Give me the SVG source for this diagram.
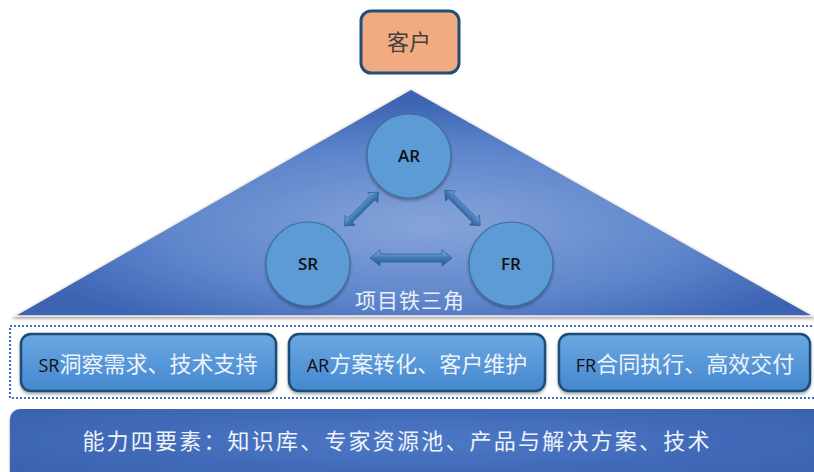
<svg xmlns="http://www.w3.org/2000/svg" width="814" height="472" viewBox="0 0 814 472">
<style>
.cjk{font-family:"Noto Sans CJK SC","Liberation Sans",sans-serif;}
.lat{font-family:"Open Sans","Liberation Sans",sans-serif;}
.circ{fill:#5b9bd5;stroke:#3d6f9f;stroke-width:1.2;}
.ctext{font-family:"Open Sans","Liberation Sans",sans-serif;font-size:17px;font-weight:600;fill:#111;text-anchor:middle;}
.role{fill:url(#boxg);stroke:#1f4e79;stroke-width:2.5;}
.arr{fill:url(#arrg);stroke:#2e5f8f;stroke-width:0.8;}
</style>
<defs>
<radialGradient id="tri" cx="0.52" cy="0.6" r="0.55">
<stop offset="0" stop-color="#86a4d9"/>
<stop offset="0.6" stop-color="#5f86cc"/>
<stop offset="1" stop-color="#3c63b3"/>
</radialGradient>
<linearGradient id="boxg" x1="0" y1="0" x2="0" y2="1">
<stop offset="0" stop-color="#6aa8e2"/>
<stop offset="1" stop-color="#4587cf"/>
</linearGradient>
<radialGradient id="barg" cx="0.5" cy="0.4" r="0.6">
<stop offset="0" stop-color="#4c78c6"/>
<stop offset="1" stop-color="#3a62b0"/>
</radialGradient>
<linearGradient id="arrg" x1="0" y1="0" x2="0" y2="1">
<stop offset="0" stop-color="#8fb9e6"/>
<stop offset="0.5" stop-color="#3f78b8"/>
<stop offset="1" stop-color="#2a5a94"/>
</linearGradient>
<filter id="sh" x="-10%" y="-10%" width="120%" height="130%">
<feDropShadow dx="0" dy="2" stdDeviation="1.5" flood-color="#000" flood-opacity="0.35"/>
</filter>
</defs>

<g id="triangle">
<polygon points="411,89 14,316 814,316" fill="url(#tri)" stroke="#f3ede6" stroke-width="1.5" filter="url(#sh)"/>
<text class="cjk" x="410" y="308" font-size="21" fill="#e9eef8" text-anchor="middle" letter-spacing="1">项目铁三角</text>
</g>

<g id="customer">
<rect x="361" y="11" width="98" height="62" rx="10" fill="#f2aa80" stroke="#1f4e79" stroke-width="3"/>
<text class="cjk" x="409" y="50" font-size="22" fill="#404040" text-anchor="middle">客户</text>
</g>

<g id="connectors">
<g transform="translate(361.5,209) rotate(-45)">
<polygon class="arr" points="-24,0 -16,-7 -16,-3 16,-3 16,-7 24,0 16,7 16,3 -16,3 -16,7"/>
</g>
<g transform="translate(462.5,208) rotate(45)">
<polygon class="arr" points="-25,0 -17,-7 -17,-3 17,-3 17,-7 25,0 17,7 17,3 -17,3 -17,7"/>
</g>
<g transform="translate(411,258)">
<polygon class="arr" points="-41,0 -31,-8 -31,-4 31,-4 31,-8 41,0 31,8 31,4 -31,4 -31,8"/>
</g>
</g>

<g id="AR">
<circle class="circ" cx="409" cy="156" r="42" filter="url(#sh)"/>
<text class="ctext" x="409" y="162">AR</text>
</g>
<g id="SR">
<circle class="circ" cx="308" cy="264" r="42" filter="url(#sh)"/>
<text class="ctext" x="308" y="270">SR</text>
</g>
<g id="FR">
<circle class="circ" cx="511" cy="264" r="42" filter="url(#sh)"/>
<text class="ctext" x="511" y="270">FR</text>
</g>

<g id="roles-frame">
<rect x="10" y="326" width="810" height="72" fill="none" stroke="#4472c4" stroke-width="2.2" stroke-dasharray="2,2"/>
</g>

<g id="role-SR">
<rect class="role" x="21" y="334" width="255" height="57" rx="10" filter="url(#sh)"/>
<text x="148" y="372" text-anchor="middle"><tspan class="lat" font-size="18" fill="#111">SR</tspan><tspan class="cjk" font-size="22" fill="#eef3fb">洞察需求、技术支持</tspan></text>
</g>
<g id="role-AR">
<rect class="role" x="289" y="334" width="256" height="57" rx="10" filter="url(#sh)"/>
<text x="417" y="372" text-anchor="middle"><tspan class="lat" font-size="18" fill="#111">AR</tspan><tspan class="cjk" font-size="22" fill="#eef3fb">方案转化、客户维护</tspan></text>
</g>
<g id="role-FR">
<rect class="role" x="559" y="334" width="251" height="57" rx="10" filter="url(#sh)"/>
<text x="685" y="372" text-anchor="middle"><tspan class="lat" font-size="18" fill="#111">FR</tspan><tspan class="cjk" font-size="22" fill="#eef3fb">合同执行、高效交付</tspan></text>
</g>

<g id="capabilities">
<rect x="10" y="409" width="830" height="80" rx="10" fill="url(#barg)" filter="url(#sh)"/>
<text class="cjk" x="397" y="449" font-size="22" fill="#eef3fb" text-anchor="middle" letter-spacing="2.2">能力四要素：知识库、专家资源池、产品与解决方案、技术</text>
</g>
</svg>
